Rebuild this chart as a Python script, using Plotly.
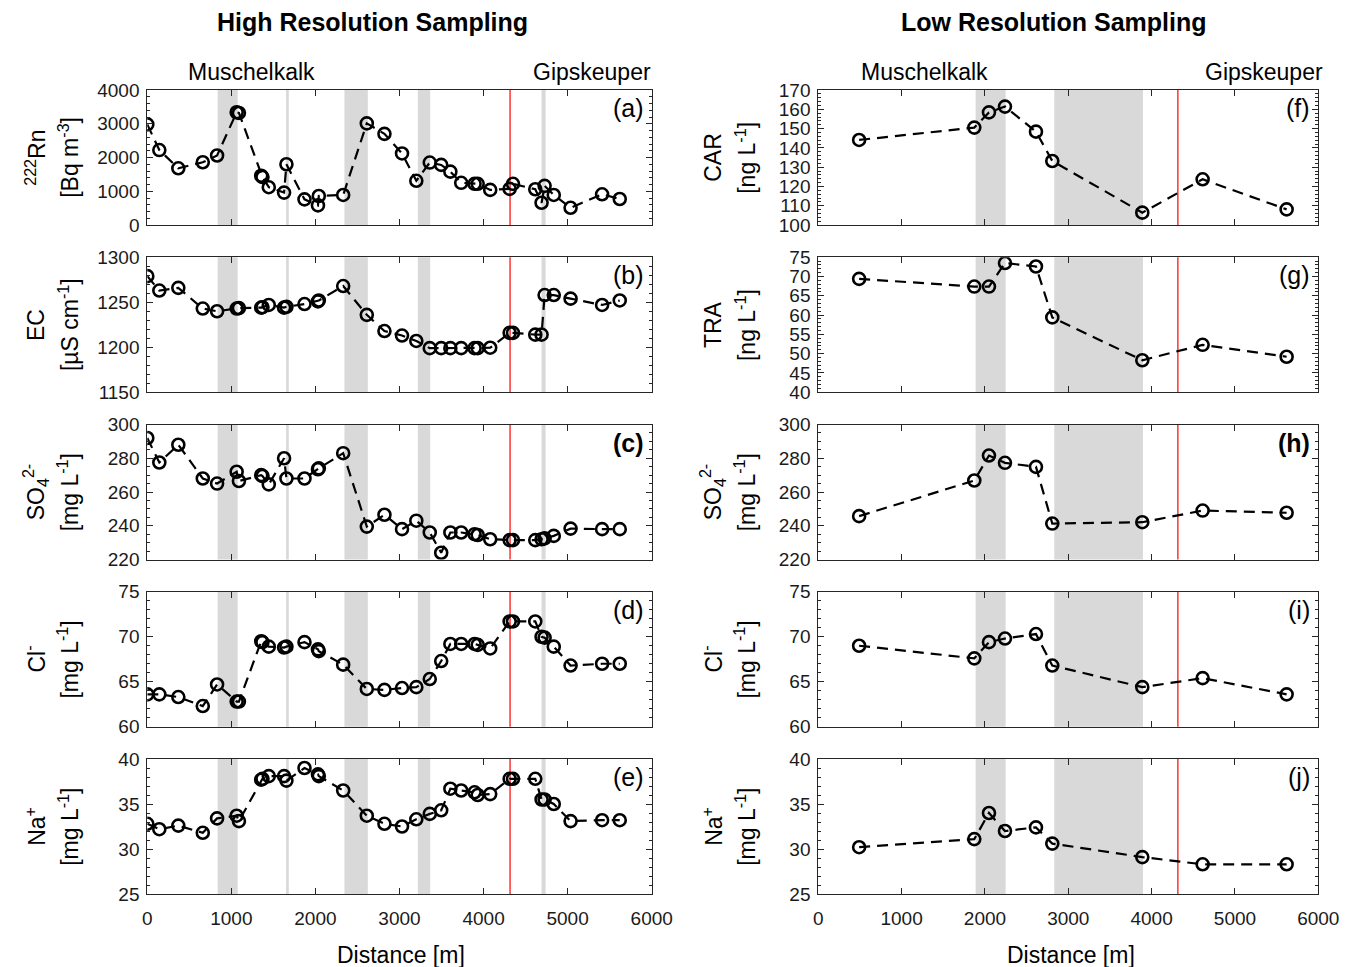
import plotly.graph_objects as go

# ---------------- data ----------------
dist_high = [0, 143, 369, 660, 830, 1063, 1090, 1355, 1370, 1445, 1627, 1655, 1870, 2030, 2040,
             2330, 2611, 2821, 3030, 3200, 3360, 3496, 3605, 3734, 3893, 3930, 4079, 4310, 4350,
             4615, 4690, 4726, 4835, 5035, 5410, 5620]
rn = [2980, 2220, 1680, 1860, 2060, 3340, 3320, 1460, 1420, 1120, 960, 1800, 760, 580, 860,
      890, 3010, 2700, 2120, 1310, 1850, 1780, 1580, 1250, 1220, 1220, 1040, 1070, 1220,
      1060, 660, 1160, 890, 510, 910, 770]
ec = [1279, 1263, 1266, 1243, 1240, 1243, 1243.5, 1244, 1244.5, 1247, 1244, 1245, 1248, 1251, 1252,
      1268, 1236, 1218, 1213, 1207, 1199, 1199, 1199, 1199, 1199, 1199, 1199.5, 1216, 1216,
      1214, 1214, 1258, 1258, 1254, 1247, 1252]
so4_high = [292, 277.5, 288, 268, 265, 272, 266.5, 270, 269.5, 264.5, 280, 268, 268, 273.5, 274,
            283, 239.5, 246.5, 238, 243, 236, 224, 236, 236, 235, 234.5, 232, 231.5, 231.5,
            231.5, 232, 232.5, 234, 238.3, 238, 238]
cl_high = [63.6, 63.6, 63.3, 62.3, 64.7, 62.8, 62.8, 69.5, 69.4, 68.9, 68.8, 68.9, 69.4, 68.6, 68.4,
           66.9, 64.2, 64.1, 64.3, 64.4, 65.3, 67.3, 69.2, 69.2, 69.2, 69.1, 68.7, 71.7, 71.7,
           71.7, 70.0, 69.9, 68.9, 66.8, 67.0, 67.0]
na_high = [32.8, 32.2, 32.6, 31.8, 33.4, 33.7, 33.1, 37.7, 37.8, 38.1, 38.1, 37.6, 39.0, 38.3, 38.1,
           36.5, 33.7, 32.8, 32.5, 33.3, 33.9, 34.3, 36.7, 36.5, 36.3, 36.0, 36.1, 37.8, 37.8,
           37.8, 35.5, 35.5, 35.0, 33.1, 33.2, 33.2]

dist_low = [490, 1872, 2048, 2240, 2612, 2808, 3888, 4612, 5620]
car = [144.1, 150.5, 158.4, 161.4, 148.4, 133.2, 106.4, 123.7, 108.1]
tra = [69.4, 67.4, 67.4, 73.5, 72.6, 59.4, 48.3, 52.3, 49.2]
so4_low = [245.7, 266.8, 281.6, 277.3, 274.9, 241.3, 242.1, 249.0, 247.7]
cl_low = [69.0, 67.6, 69.4, 69.8, 70.3, 66.8, 64.4, 65.4, 63.6]
na_low = [30.2, 31.1, 34.0, 32.0, 32.4, 30.6, 29.1, 28.3, 28.3]

bands_high = [(837, 1075), (1651, 1683), (2345, 2623), (3218, 3365), (4690, 4738)]
bands_low = [(1888, 2248), (2832, 3896)]
boundary_m = 4315
x_ticks = [0, 1000, 2000, 3000, 4000, 5000, 6000]

panels_left = [
    ("a", rn, (0, 4000), 1000, 200, "<sup>222</sup>Rn", "[Bq m<sup>-3</sup>]"),
    ("b", ec, (1150, 1300), 50, 10, "EC", "[µS cm<sup>-1</sup>]"),
    ("c", so4_high, (220, 300), 20, 5, "SO<sub>4</sub><sup>2-</sup>", "[mg L<sup>-1</sup>]"),
    ("d", cl_high, (60, 75), 5, 1, "Cl<sup>-</sup>", "[mg L<sup>-1</sup>]"),
    ("e", na_high, (25, 40), 5, 1, "Na<sup>+</sup>", "[mg L<sup>-1</sup>]"),
]
panels_right = [
    ("f", car, (100, 170), 10, 2, "CAR", "[ng L<sup>-1</sup>]"),
    ("g", tra, (40, 75), 5, 1, "TRA", "[ng L<sup>-1</sup>]"),
    ("h", so4_low, (220, 300), 20, 5, "SO<sub>4</sub><sup>2-</sup>", "[mg L<sup>-1</sup>]"),
    ("i", cl_low, (60, 75), 5, 1, "Cl<sup>-</sup>", "[mg L<sup>-1</sup>]"),
    ("j", na_low, (25, 40), 5, 1, "Na<sup>+</sup>", "[mg L<sup>-1</sup>]"),
]

# ---------------- layout geometry ----------------
W, H = 1357, 967
FONT = "Liberation Sans, Arial, Helvetica, sans-serif"
AX = "#262626"
TICKSIZE = 19


def px(x):
    return x / W


def py(y):
    return 1 - y / H


col_x = [(147.3, 651.7), (818.3, 1318.3)]
title_offsets = [(112, 79), (106, 73)]
tops = [90 + i * 167.25 for i in range(5)]
ph = 135

fig = go.Figure()
layout = dict(width=W, height=H, margin=dict(l=0, r=0, t=0, b=0),
              paper_bgcolor="white", plot_bgcolor="white", showlegend=False,
              font=dict(family=FONT, color="black"))
shapes = []
annotations = []

for c, (panels, dist, bands) in enumerate([(panels_left, dist_high, bands_high),
                                          (panels_right, dist_low, bands_low)]):
    x0p, x1p = col_x[c]
    for r, (letter, vals, yr, dt, mdt, lab1, lab2) in enumerate(panels):
        n = c * 5 + r + 1
        sfx = "" if n == 1 else str(n)
        top = tops[r]
        bot = top + ph
        layout["xaxis" + sfx] = dict(
            domain=[px(x0p), px(x1p)], anchor="y" + sfx, range=[0, 6000],
            tickvals=x_ticks, showticklabels=(r == 4), ticks="inside", ticklen=6,
            tickwidth=1, tickcolor=AX, showline=True, linecolor=AX, linewidth=1,
            mirror="ticks", showgrid=False, zeroline=False, automargin=False,
            ticklabelstandoff=7,
            tickfont=dict(size=TICKSIZE, family=FONT, color="#1a1a1a"),
        )
        layout["yaxis" + sfx] = dict(
            domain=[py(bot), py(top)], anchor="x" + sfx, range=list(yr), dtick=dt,
            tick0=yr[0], ticks="inside", ticklen=6, tickwidth=1, tickcolor=AX,
            showline=True, linecolor=AX, linewidth=1, mirror="ticks", showgrid=False,
            zeroline=False, automargin=False, ticklabelstandoff=3,
            minor=dict(ticks="inside", ticklen=3, dtick=mdt, tickcolor=AX, showgrid=False),
            tickfont=dict(size=TICKSIZE, family=FONT, color="#1a1a1a"),
        )
        xref = "x" + sfx
        yref_dom = "y" + sfx + " domain"
        for b0, b1 in bands:
            shapes.append(dict(type="rect", xref=xref, yref=yref_dom, x0=b0, x1=b1,
                               y0=0, y1=1, fillcolor="#d9d9d9", line=dict(width=0),
                               layer="below"))
        shapes.append(dict(type="line", xref=xref, yref=yref_dom, x0=boundary_m,
                           x1=boundary_m, y0=0, y1=1, line=dict(color="#ff0000", width=1.2),
                           layer="below"))
        fig.add_trace(go.Scatter(
            x=dist, y=vals, xaxis=xref, yaxis="y" + sfx, mode="lines+markers",
            line=dict(color="black", width=2.2, dash="11px,7px"),
            marker=dict(symbol="circle-open", size=12, color="black",
                        line=dict(width=2.6, color="black")),
            hoverinfo="skip"))
        # panel letter
        bold = letter in ("c", "h")
        ltxt = "<b>(%s)</b>" % letter if bold else "(%s)" % letter
        annotations.append(dict(text=ltxt, xref=xref + " domain", yref=yref_dom,
                                x=0.988, y=0.985, xanchor="right", yanchor="top",
                                showarrow=False, font=dict(size=25, family=FONT, color="black")))
        # y titles (two lines)
        yc = py(top + ph / 2)
        for lab, off in zip((lab1, lab2), title_offsets[c]):
            annotations.append(dict(text=lab, xref="paper", yref="paper",
                                    x=px(x0p - off), y=yc, xanchor="center", yanchor="middle",
                                    textangle=-90, showarrow=False,
                                    font=dict(size=23, family=FONT, color="black")))

# header / footer texts
for txt, x, y, size in [
    ("<b>High Resolution Sampling</b>", 372, 22, 25),
    ("<b>Low Resolution Sampling</b>", 1054, 22, 25),
    ("Muschelkalk", 251, 72, 23),
    ("Gipskeuper", 592, 72, 23),
    ("Muschelkalk", 924, 72, 23),
    ("Gipskeuper", 1264, 72, 23),
    ("Distance [m]", 401, 955, 23),
    ("Distance [m]", 1071, 955, 23),
]:
    annotations.append(dict(text=txt, xref="paper", yref="paper", x=px(x), y=py(y),
                            xanchor="center", yanchor="middle", showarrow=False,
                            font=dict(size=size, family=FONT, color="black")))

layout["shapes"] = shapes
layout["annotations"] = annotations
fig.update_layout(**layout)

fig.write_html("out.html", config={"displayModeBar": False},
               post_script="document.body.style.margin='0';")
